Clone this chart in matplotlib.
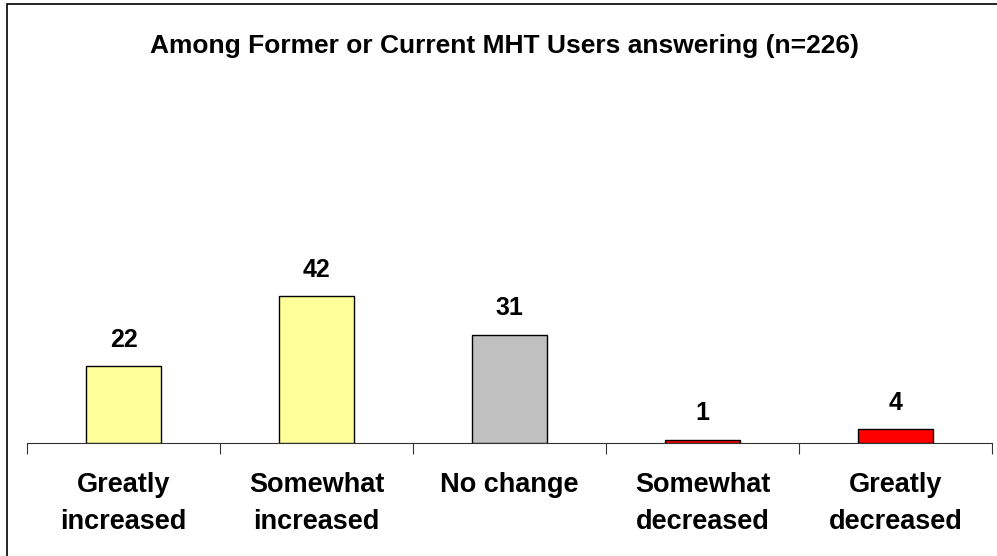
import matplotlib
matplotlib.use("Agg")
import matplotlib.pyplot as plt
from matplotlib.patches import Rectangle

# Dados
categorias = ["Greatly\nincreased", "Somewhat\nincreased", "No change",
              "Somewhat\ndecreased", "Greatly\ndecreased"]
valores = [22, 42, 31, 1, 4]
cores = ["#FFFF99", "#FFFF99", "#C0C0C0", "#FF0000", "#FF0000"]
titulo = "Among Former or Current MHT Users answering (n=226)"

plt.rcParams["font.family"] = ["Liberation Sans", "DejaVu Sans"]

W, H = 997, 556
fig = plt.figure(figsize=(W / 100, H / 100), dpi=100)

# moldura do gráfico (borda esquerda/superior visíveis)
fig.patches.append(Rectangle((7 / W, -0.05), 1.2, 1 - 4 / H + 0.05,
                             transform=fig.transFigure, fill=False,
                             edgecolor="black", linewidth=1.2))

ax = fig.add_axes([27 / W, 1 - 443 / H, 965 / W, 350 / H])
x = list(range(len(valores)))
barras = ax.bar(x, valores, width=0.39, color=cores, edgecolor="black",
                linewidth=1.0, zorder=3)

for b, v in zip(barras, valores):
    ax.text(b.get_x() + b.get_width() / 2, v + 5.5, str(v),
            ha="center", va="baseline", fontsize=18, fontweight="bold")

ax.set_xlim(-0.5, len(valores) - 0.5)
ax.set_ylim(0, 100)
for s in ["top", "right", "left"]:
    ax.spines[s].set_visible(False)
ax.spines["bottom"].set_color("#333333")
ax.set_yticks([])

# ticks nos limites das categorias
ax.set_xticks([i - 0.5 for i in range(len(valores) + 1)])
ax.set_xticklabels([])
ax.tick_params(axis="x", length=8, color="#333333", direction="out")
ax.set_xticks(x, minor=True)
ax.set_xticklabels(categorias, minor=True, fontsize=19.5, fontweight="bold",
                   linespacing=1.55)
ax.tick_params(axis="x", which="minor", length=0, pad=21)

fig.text(505 / W, 1 - 46 / H, titulo, ha="center", va="center",
         fontsize=19, fontweight="bold")

fig.savefig("out.png", dpi=100)
